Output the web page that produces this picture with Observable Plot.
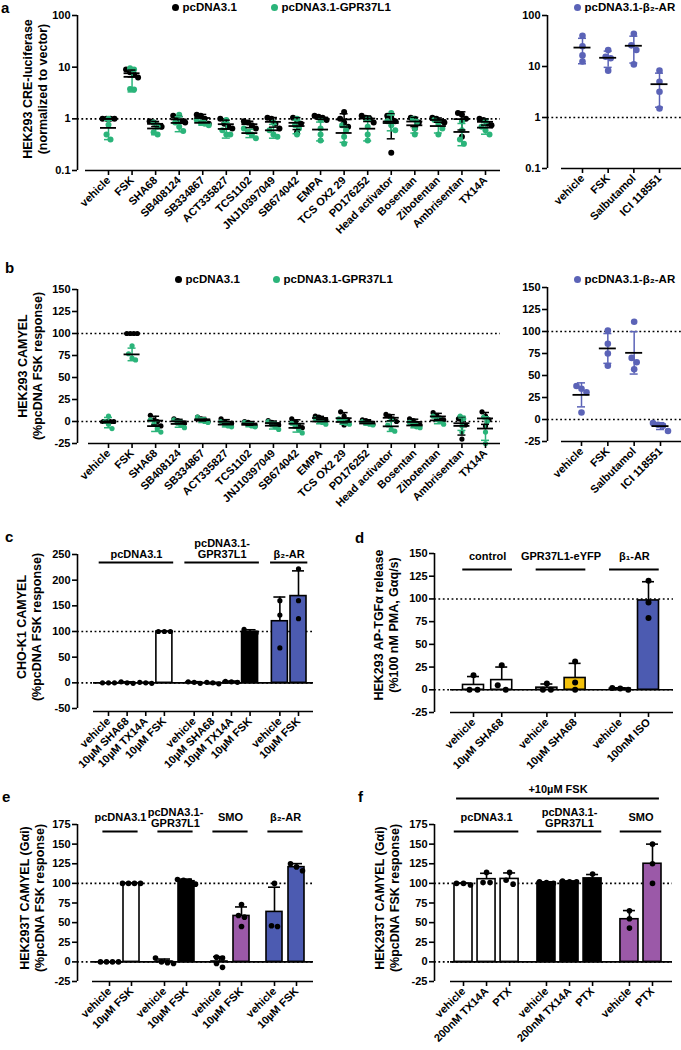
<!DOCTYPE html>
<html><head><meta charset="utf-8">
<script src="https://cdn.jsdelivr.net/npm/d3@7"></script>
<script src="https://cdn.jsdelivr.net/npm/@observablehq/plot@0.6"></script>
<style>
body{margin:0;background:#fff;}
#fig{position:relative;width:681px;height:1050px;overflow:hidden;font-family:"Liberation Sans",Arial,sans-serif;font-weight:bold;color:#000;background:#fff;}
.lbl{position:absolute;font-size:15px;line-height:15px;}
.ttl{position:absolute;font-size:12.5px;line-height:15px;white-space:nowrap;text-align:center;transform:translate(-50%,-50%) rotate(-90deg);}
.leg{position:absolute;height:12px;font-size:11.5px;line-height:12px;white-space:nowrap;display:flex;align-items:center;}
.leg i{display:inline-block;width:7px;height:7px;border-radius:50%;margin-right:4px;margin-left:-3.5px;}
</style></head><body><div id="fig"></div>
<script>
// ---------------- DATA ----------------
// Panel a: HEK293 CRE-luciferase (normalized to vector), log scale, n=4 per compound
const aCompounds = ["vehicle","FSK","SHA68","SB408124","SB334867","ACT335827","TCS1102","JNJ10397049","SB674042","EMPA","TCS OX2 29","PD176252","Head activator","Bosentan","Zibotentan","Ambrisentan","TX14A"];
const aPcdna = [[1,1,1,1],[9.0,8.0,7.2,6.3],[0.9,0.85,0.75,0.7],[1.15,1.0,0.9,0.85],[1.2,1.15,1.0,0.8],[1.0,0.8,0.7,0.65],[0.9,0.85,0.75,0.65],[1.05,1.0,0.8,0.65],[1.05,0.95,0.8,0.55],[1.15,1.1,1.05,0.95],[1.35,1.0,0.85,0.7],[1.15,1.05,1.0,0.85],[1.15,1.05,0.9,0.22],[1.05,1.0,0.85,0.65],[1.05,1.0,0.9,0.85],[1.3,1.2,1.0,0.45],[1.0,0.95,0.8,0.75]];
const aGpr = [[1.0,0.77,0.5,0.4],[9.5,9.0,3.8,3.7],[0.85,0.7,0.55,0.5],[1.2,0.85,0.7,0.58],[0.95,0.85,0.8,0.75],[0.95,0.6,0.5,0.5],[0.65,0.55,0.5,0.42],[0.85,0.6,0.5,0.45],[1.0,0.75,0.65,0.5],[0.95,0.65,0.5,0.38],[0.75,0.6,0.45,0.33],[1.0,0.7,0.5,0.38],[1.3,0.9,0.75,0.6],[1.0,0.85,0.65,0.5],[0.95,0.8,0.65,0.5],[0.9,0.6,0.4,0.33],[0.9,0.7,0.6,0.5]];
const b2Ligands = ["vehicle","FSK","Salbutamol","ICI 118551"];
const aB2 = [[40,25,16.5,12.5],[21,15.5,14.5,8.3],[44,26,21,11],[8.3,5,3.2,1.5]];
const aTicks = [0.1,1,10,100];

// Panel b: HEK293 CAMYEL (%pcDNA FSK response)
const bPcdna = [[0,0,0,0],[100,100,100,100],[7,2,0,-5],[3,1,-1,-2],[5,3,2,0],[3,0,-2,-2],[0,-1,-3,-5],[1,-1,-3,-4],[3,-1,-5,-7],[6,5,3,2],[11,6,2,-4],[2,1,-1,-3],[8,6,3,0],[3,1,-2,-4],[10,7,4,2],[3,1,-4,-20],[11,6,2,-5]];
const bGpr = [[6,0,-3,-8],[86,77,72,70],[2,-3,-8,-12],[2,-2,-4,-7],[5,2,0,-1],[0,-3,-5,-6],[-1,-3,-5,-6],[0,-4,-6,-9],[-2,-5,-9,-13],[3,1,-1,-3],[3,0,-2,-3],[0,-2,-3,-4],[2,-4,-9,-11],[-1,-4,-6,-7],[6,2,0,-3],[6,3,-5,-12],[5,0,-12,-25]];
const bB2 = [[38,35,31,8],[101,86,75,61],[111,70,65,57],[-4,-6,-7,-13]];
const bTicks = [-25,0,25,50,75,100,125,150];

// Panel c: CHO-K1 CAMYEL
const cGroups = ["pcDNA3.1","pcDNA3.1-\nGPR37L1","β₂-AR"];
const cConditions = [["vehicle","10µM SHA68","10µM TX14A","10µM FSK"],["vehicle","10µM SHA68","10µM TX14A","10µM FSK"],["vehicle","10µM FSK"]];
const cValues = [[[0,0,0],[-1,2,0],[-1,1,0],[100,100,100]],[[-1,2,1],[-2,1,0],[1,3,2],[104,97,97]],[[160,132,68],[222,160,125]]];
const cTicks = [-50,0,50,100,150,200,250];

// Panel d: HEK293 AP-TGFα release
const dGroups = ["control","GPR37L1-eYFP","β₁-AR"];
const dConditions = [["vehicle","10µM SHA68"],["vehicle","10µM SHA68"],["vehicle","100nM ISO"]];
const dValues = [[[16,0,0],[27,5,0]],[[7,0,0],[31,8,0]],[[0,2,1.5],[120,96,79]]];
const dTicks = [-25,0,25,50,75,100,125,150];

// Panel e: HEK293T CAMYEL (Gαi)
const eGroups = ["pcDNA3.1","pcDNA3.1-\nGPR37L1","SMO","β₂-AR"];
const eConditions = [["vehicle","10µM FSK"],["vehicle","10µM FSK"],["vehicle","10µM FSK"],["vehicle","10µM FSK"]];
const eValues = [[[0,0,0,0],[100,100,100,100]],[[5,0,-2,-1],[105,104,103,99]],[[-7,6,-2,5],[73,59,57,45]],[[100,46,45],[125,121,116]]];
const eTicks = [-25,0,25,50,75,100,125,150,175];

// Panel f: HEK293T CAMYEL (Gαi), +10µM FSK
const fHeader = "+10µM FSK";
const fGroups = ["pcDNA3.1","pcDNA3.1-\nGPR37L1","SMO"];
const fConditions = [["vehicle","200nM TX14A","PTX"],["vehicle","200nM TX14A","PTX"],["vehicle","PTX"]];
const fValues = [[[98,100,100],[114,101,101],[114,99,104]],[[102,101,100],[103,102,102],[112,104,103]],[[65,55,43],[150,125,100]]];
const fTicks = [-25,0,25,50,75,100,125,150,175];

// ---------------- STYLES ----------------
const GREEN = "#2bb47a", BLUE_PT = "#5b63b7", BLUE_BAR = "#4c5bb1", PURPLE = "#9b59a8", YELLOW = "#f4c20d";
const cFills = [["white","white","white","white"],["black","black","black","black"],[BLUE_BAR,BLUE_BAR]];
const dFills = [["white","white"],["white",YELLOW],["white",BLUE_BAR]];
const eFills = [["white","white"],["black","black"],[PURPLE,PURPLE],[BLUE_BAR,BLUE_BAR]];
const fFills = [["white","white","white"],["black","black","black"],[PURPLE,PURPLE]];
const FONT = '"Liberation Sans", Arial, sans-serif';
const DOTTED = "1.8 2.6";
const SW = 1.6;

const fig = document.getElementById("fig");

// ---------------- HELPERS ----------------
function groupSlots(sizes, gap) {
  const out = []; let s = 0;
  for (const n of sizes) { const g = []; for (let j = 0; j < n; j++) g.push(+(s + j).toFixed(3)); s += n + gap; out.push(g); }
  return out;
}
function spreadOffsets(pxs, thresh, step) {
  const idx = pxs.map((p, i) => i).sort((a, b) => pxs[a] - pxs[b]);
  const off = new Array(pxs.length).fill(0);
  let cl = [idx[0]];
  const flush = () => { const m = cl.length; cl.forEach((i, c) => off[i] = (c - (m - 1) / 2) * step); };
  for (let t = 1; t < idx.length; t++) {
    const i = idx[t];
    if (pxs[i] - pxs[cl[cl.length - 1]] < thresh) cl.push(i); else { flush(); cl = [i]; }
  }
  flush();
  return off;
}
function barSpecs(gs, values, fills) {
  const out = [];
  gs.forEach((g, gi) => g.forEach((s, j) => out.push({slot: s, values: values[gi][j], fill: fills[gi][j]})));
  return out;
}
function groupSpecs(gs, names) { return gs.map((g, gi) => ({first: g[0], last: g[g.length - 1], label: names[gi]})); }

function panel(cfg) {
  const {box, axisPx, rightPx, yTopPx, yBottomPx, xLinePx, xLineStartPx, P0, Pn, yType = "linear", yDomain, yTicks,
    slots, labels, refs = [], solidZero = false, scatter = [], bars = [], groups = [], groupStyle = {}, header = null,
    dotR = 3, spreadStep = 4, barW = 16, meanHalf = 8, capHalf = 4, barCapHalf = 6} = cfg;
  const [left, top, width, height] = box;
  const s0 = slots[0], sn = slots[slots.length - 1];
  const k = (Pn - P0) / (sn - s0);
  const xAt = px => s0 + (px - P0) / k;
  const tf = yType === "log" ? Math.log10 : v => v;
  const yPx = v => yBottomPx + (tf(v) - tf(yDomain[0])) / (tf(yDomain[1]) - tf(yDomain[0])) * (yTopPx - yBottomPx);
  const ml = axisPx - left, mr = left + width - rightPx, mt = yTopPx - top, mb = top + height - xLinePx;
  const labelOf = new Map(slots.map((s, i) => [s, labels[i]]));
  const yMin = yDomain[0], yMax = yDomain[1];
  const marks = [];
  for (const r of refs) marks.push(Plot.ruleY([r], {strokeDasharray: DOTTED, strokeWidth: SW}));
  if (solidZero) marks.push(Plot.ruleY([0], {insetLeft: xLineStartPx - axisPx, strokeWidth: SW}));

  if (bars.length) {
    const stats = bars.map(b => {
      const m = d3.mean(b.values), s = d3.deviation(b.values) || 0;
      return {x: b.slot, m, e: m >= 0 ? m + s : m - s, fill: b.fill};
    });
    marks.push(Plot.rect(stats, {x1: "x", x2: "x", insetLeft: -barW / 2, insetRight: -barW / 2, y1: () => 0, y2: "m", fill: "fill", stroke: "black", strokeWidth: SW}));
    marks.push(Plot.ruleX(stats, {x: "x", y1: "m", y2: "e", strokeWidth: SW}));
    marks.push(Plot.ruleY(stats, {x1: "x", x2: "x", y: "e", insetLeft: -barCapHalf, insetRight: -barCapHalf, strokeWidth: SW}));
    const pts = [];
    bars.forEach(b => {
      const off = spreadOffsets(b.values.map(yPx), dotR * 1.8, spreadStep);
      b.values.forEach((v, j) => pts.push({x: b.slot + off[j] / k, y: v}));
    });
    marks.push(Plot.dot(pts, {x: "x", y: "y", r: dotR, fill: "black"}));
  }

  if (scatter.length) {
    const statsAll = [];
    for (const ser of scatter) {
      const pts = [];
      ser.sets.forEach((vals, i) => {
        const off = spreadOffsets(vals.map(yPx), dotR * 1.7, spreadStep);
        vals.forEach((v, j) => pts.push({x: slots[i] + off[j] / k, y: v}));
        const m = d3.mean(vals), s = d3.deviation(vals) || 0;
        statsAll.push({x: slots[i], m, lo: yType === "log" ? Math.max(m - s, yMin) : m - s, hi: m + s, c: ser.color});
      });
      marks.push(Plot.dot(pts, {x: "x", y: "y", r: dotR, fill: ser.color}));
    }
    marks.push(Plot.ruleX(statsAll, {x: "x", y1: "lo", y2: "hi", stroke: "c", strokeWidth: 1.5}));
    marks.push(Plot.ruleY(statsAll, {x1: "x", x2: "x", y: "hi", insetLeft: -capHalf, insetRight: -capHalf, stroke: "c", strokeWidth: 1.5}));
    marks.push(Plot.ruleY(statsAll, {x1: "x", x2: "x", y: "lo", insetLeft: -capHalf, insetRight: -capHalf, stroke: "c", strokeWidth: 1.5}));
    marks.push(Plot.ruleY(statsAll, {x1: "x", x2: "x", y: "m", insetLeft: -meanHalf, insetRight: -meanHalf, stroke: "black", strokeWidth: 1.8}));
  }

  if (groups.length) {
    const g = groupStyle;
    marks.push(Plot.text(groups, {x: d => (d.first + d.last) / 2, y: () => yMax, dy: g.textDy, text: "label", lineAnchor: g.lineAnchor, lineHeight: 1, fontSize: 11, fontWeight: "bold"}));
    marks.push(Plot.ruleY(groups, {x1: d => d.first - g.ext, x2: d => d.last + g.ext, y: () => yMax, dy: g.lineDy, strokeWidth: 1.8}));
  }
  if (header) {
    const h = [{first: s0, last: sn, label: header.label}];
    marks.push(Plot.text(h, {x: d => (d.first + d.last) / 2, y: () => yMax, dy: header.textDy, text: "label", lineAnchor: "middle", fontSize: 11, fontWeight: "bold"}));
    marks.push(Plot.ruleY(h, {x1: d => d.first - header.ext, x2: d => d.last + header.ext, y: () => yMax, dy: header.lineDy, strokeWidth: 1.8}));
  }

  // axes (Prism style: separated x axis line)
  marks.push(Plot.ruleX([xAt(axisPx)], {y1: () => yMin, y2: () => yMax, strokeWidth: SW}));
  marks.push(Plot.ruleY([yMin], {dy: xLinePx - yBottomPx, insetLeft: xLineStartPx - axisPx, strokeWidth: SW}));
  marks.push(Plot.axisY({ticks: yTicks, tickFormat: d => String(d), tickSize: 5, tickPadding: 2, strokeWidth: SW, fontSize: 11, fontWeight: "bold", label: null}));
  marks.push(Plot.axisX({ticks: slots, tickFormat: d => labelOf.get(d), tickSize: 5, tickPadding: 3, tickRotate: -45, textAnchor: "end", lineAnchor: "middle", strokeWidth: SW, fontSize: 11, fontWeight: "bold", label: null}));

  const svg = Plot.plot({
    width, height, marginLeft: ml, marginRight: mr, marginTop: mt, marginBottom: mb,
    style: {background: "transparent", overflow: "visible", fontFamily: FONT, fontSize: "11px", fontWeight: "bold", color: "#000"},
    x: {type: "linear", domain: [xAt(axisPx), xAt(rightPx)], range: [ml, width - mr], label: null},
    y: {type: yType, domain: yDomain, range: [yBottomPx - top, yTopPx - top], label: null},
    color: {type: "identity"},
    marks
  });
  svg.style.position = "absolute";
  svg.style.left = left + "px";
  svg.style.top = top + "px";
  fig.append(svg);
}

function addHTML(cls, html, style) {
  const el = document.createElement("div");
  el.className = cls; el.innerHTML = html;
  Object.assign(el.style, style);
  fig.append(el);
}

// ---------------- PANELS ----------------
const aSl = aCompounds.map((_, i) => i);
const b2Sl = b2Ligands.map((_, i) => i);

panel({box: [0, 0, 510, 250], axisPx: 77, rightPx: 500, yTopPx: 15, yBottomPx: 170, xLinePx: 170, xLineStartPx: 85,
  P0: 108, Pn: 485, yType: "log", yDomain: [0.1, 100], yTicks: aTicks, slots: aSl, labels: aCompounds, refs: [1],
  scatter: [{sets: aPcdna, color: "black"}, {sets: aGpr, color: GREEN}], dotR: 3, spreadStep: 4});
panel({box: [510, 0, 171, 250], axisPx: 547, rightPx: 681, yTopPx: 15, yBottomPx: 168, xLinePx: 168, xLineStartPx: 561,
  P0: 582, Pn: 659, yType: "log", yDomain: [0.1, 100], yTicks: aTicks, slots: b2Sl, labels: b2Ligands, refs: [1],
  scatter: [{sets: aB2, color: BLUE_PT}], dotR: 3.3, spreadStep: 5, meanHalf: 8.5});

panel({box: [0, 250, 510, 270], axisPx: 77, rightPx: 500, yTopPx: 289, yBottomPx: 443, xLinePx: 443, xLineStartPx: 88,
  P0: 108, Pn: 485, yDomain: [-25, 150], yTicks: bTicks, slots: aSl, labels: aCompounds, refs: [100, 0],
  scatter: [{sets: bPcdna, color: "black"}, {sets: bGpr, color: GREEN}], dotR: 2.6, spreadStep: 3.5});
panel({box: [510, 250, 171, 270], axisPx: 547, rightPx: 681, yTopPx: 287, yBottomPx: 441, xLinePx: 441, xLineStartPx: 561,
  P0: 581, Pn: 660, yDomain: [-25, 150], yTicks: bTicks, slots: b2Sl, labels: b2Ligands, refs: [100, 0],
  scatter: [{sets: bB2, color: BLUE_PT}], dotR: 3.3, spreadStep: 5, meanHalf: 8.5});

const cSl = groupSlots([4, 4, 2], 0.6);
panel({box: [0, 520, 340, 240], axisPx: 77, rightPx: 313, yTopPx: 554, yBottomPx: 708, xLinePx: 711, xLineStartPx: 93,
  P0: 108, Pn: 298, yDomain: [-50, 250], yTicks: cTicks, slots: cSl.flat(), labels: cConditions.flat(),
  refs: [100, 0], solidZero: true, bars: barSpecs(cSl, cValues, cFills), barW: 16, dotR: 2.6, spreadStep: 6,
  groups: groupSpecs(cSl, cGroups), groupStyle: {textDy: 3, lineAnchor: "bottom", lineDy: 8, ext: 0.5}});

const dSl = groupSlots([2, 2, 2], 0.6);
panel({box: [340, 520, 341, 240], axisPx: 434, rightPx: 673, yTopPx: 553, yBottomPx: 712, xLinePx: 712, xLineStartPx: 450,
  P0: 473, Pn: 648, yDomain: [-25, 150], yTicks: dTicks, slots: dSl.flat(), labels: dConditions.flat(),
  refs: [100, 0], solidZero: true, bars: barSpecs(dSl, dValues, dFills), barW: 21, dotR: 3, spreadStep: 8, barCapHalf: 6,
  groups: groupSpecs(dSl, dGroups), groupStyle: {textDy: 3, lineAnchor: "middle", lineDy: 16, ext: 0.38}});

const eSl = groupSlots([2, 2, 2, 2], 0.5);
panel({box: [0, 760, 340, 290], axisPx: 77, rightPx: 313, yTopPx: 824, yBottomPx: 981, xLinePx: 981, xLineStartPx: 92,
  P0: 109, Pn: 296, yDomain: [-25, 175], yTicks: eTicks, slots: eSl.flat(), labels: eConditions.flat(),
  refs: [100, 0], solidZero: true, bars: barSpecs(eSl, eValues, eFills), barW: 16, dotR: 2.8, spreadStep: 6,
  groups: groupSpecs(eSl, eGroups), groupStyle: {textDy: -7, lineAnchor: "middle", lineDy: 7, ext: 0.3}});

const fSl = groupSlots([3, 3, 2], 0.6);
panel({box: [340, 760, 341, 290], axisPx: 434, rightPx: 672, yTopPx: 824, yBottomPx: 981, xLinePx: 981, xLineStartPx: 450,
  P0: 463, Pn: 652, yDomain: [-25, 175], yTicks: fTicks, slots: fSl.flat(), labels: fConditions.flat(),
  refs: [100, 0], solidZero: true, bars: barSpecs(fSl, fValues, fFills), barW: 18, dotR: 2.8, spreadStep: 7,
  groups: groupSpecs(fSl, fGroups), groupStyle: {textDy: -7, lineAnchor: "middle", lineDy: 7, ext: 0.4},
  header: {label: fHeader, textDy: -35, lineDy: -26, ext: 0.3}});

// ---------------- TEXT ----------------
addHTML("lbl", "a", {left: "1px", top: "0px"});
addHTML("lbl", "b", {left: "5px", top: "260px"});
addHTML("lbl", "c", {left: "5px", top: "529px"});
addHTML("lbl", "d", {left: "355px", top: "530px"});
addHTML("lbl", "e", {left: "2px", top: "789px"});
addHTML("lbl", "f", {left: "358px", top: "789px"});

addHTML("ttl", "HEK293 CRE-luciferase<br>(normalized to vector)", {left: "36px", top: "89px"});
addHTML("ttl", "HEK293 CAMYEL<br>(%pcDNA FSK response)", {left: "31px", top: "366px"});
addHTML("ttl", "CHO-K1 CAMYEL<br>(%pcDNA FSK response)", {left: "30px", top: "627px"});
addHTML("ttl", "HEK293 AP-TGFα release<br>(%100 nM PMA, Gαq/s)", {left: "387px", top: "625px"});
addHTML("ttl", "HEK293T CAMYEL (Gαi)<br>(%pcDNA FSK response)", {left: "33px", top: "898px"});
addHTML("ttl", "HEK293T CAMYEL (Gαi)<br>(%pcDNA FSK response)", {left: "388px", top: "898px"});

function legend(x, y, color, text) {
  addHTML("leg", `<i style="background:${color}"></i>${text}`, {left: x + "px", top: (y - 6) + "px"});
}
legend(175, 7, "black", "pcDNA3.1");
legend(274, 7, GREEN, "pcDNA3.1-GPR37L1");
legend(577, 7, BLUE_PT, "pcDNA3.1-β₂-AR");
legend(178, 279, "black", "pcDNA3.1");
legend(276, 279, GREEN, "pcDNA3.1-GPR37L1");
legend(577, 279, BLUE_PT, "pcDNA3.1-β₂-AR");
</script></body></html>
